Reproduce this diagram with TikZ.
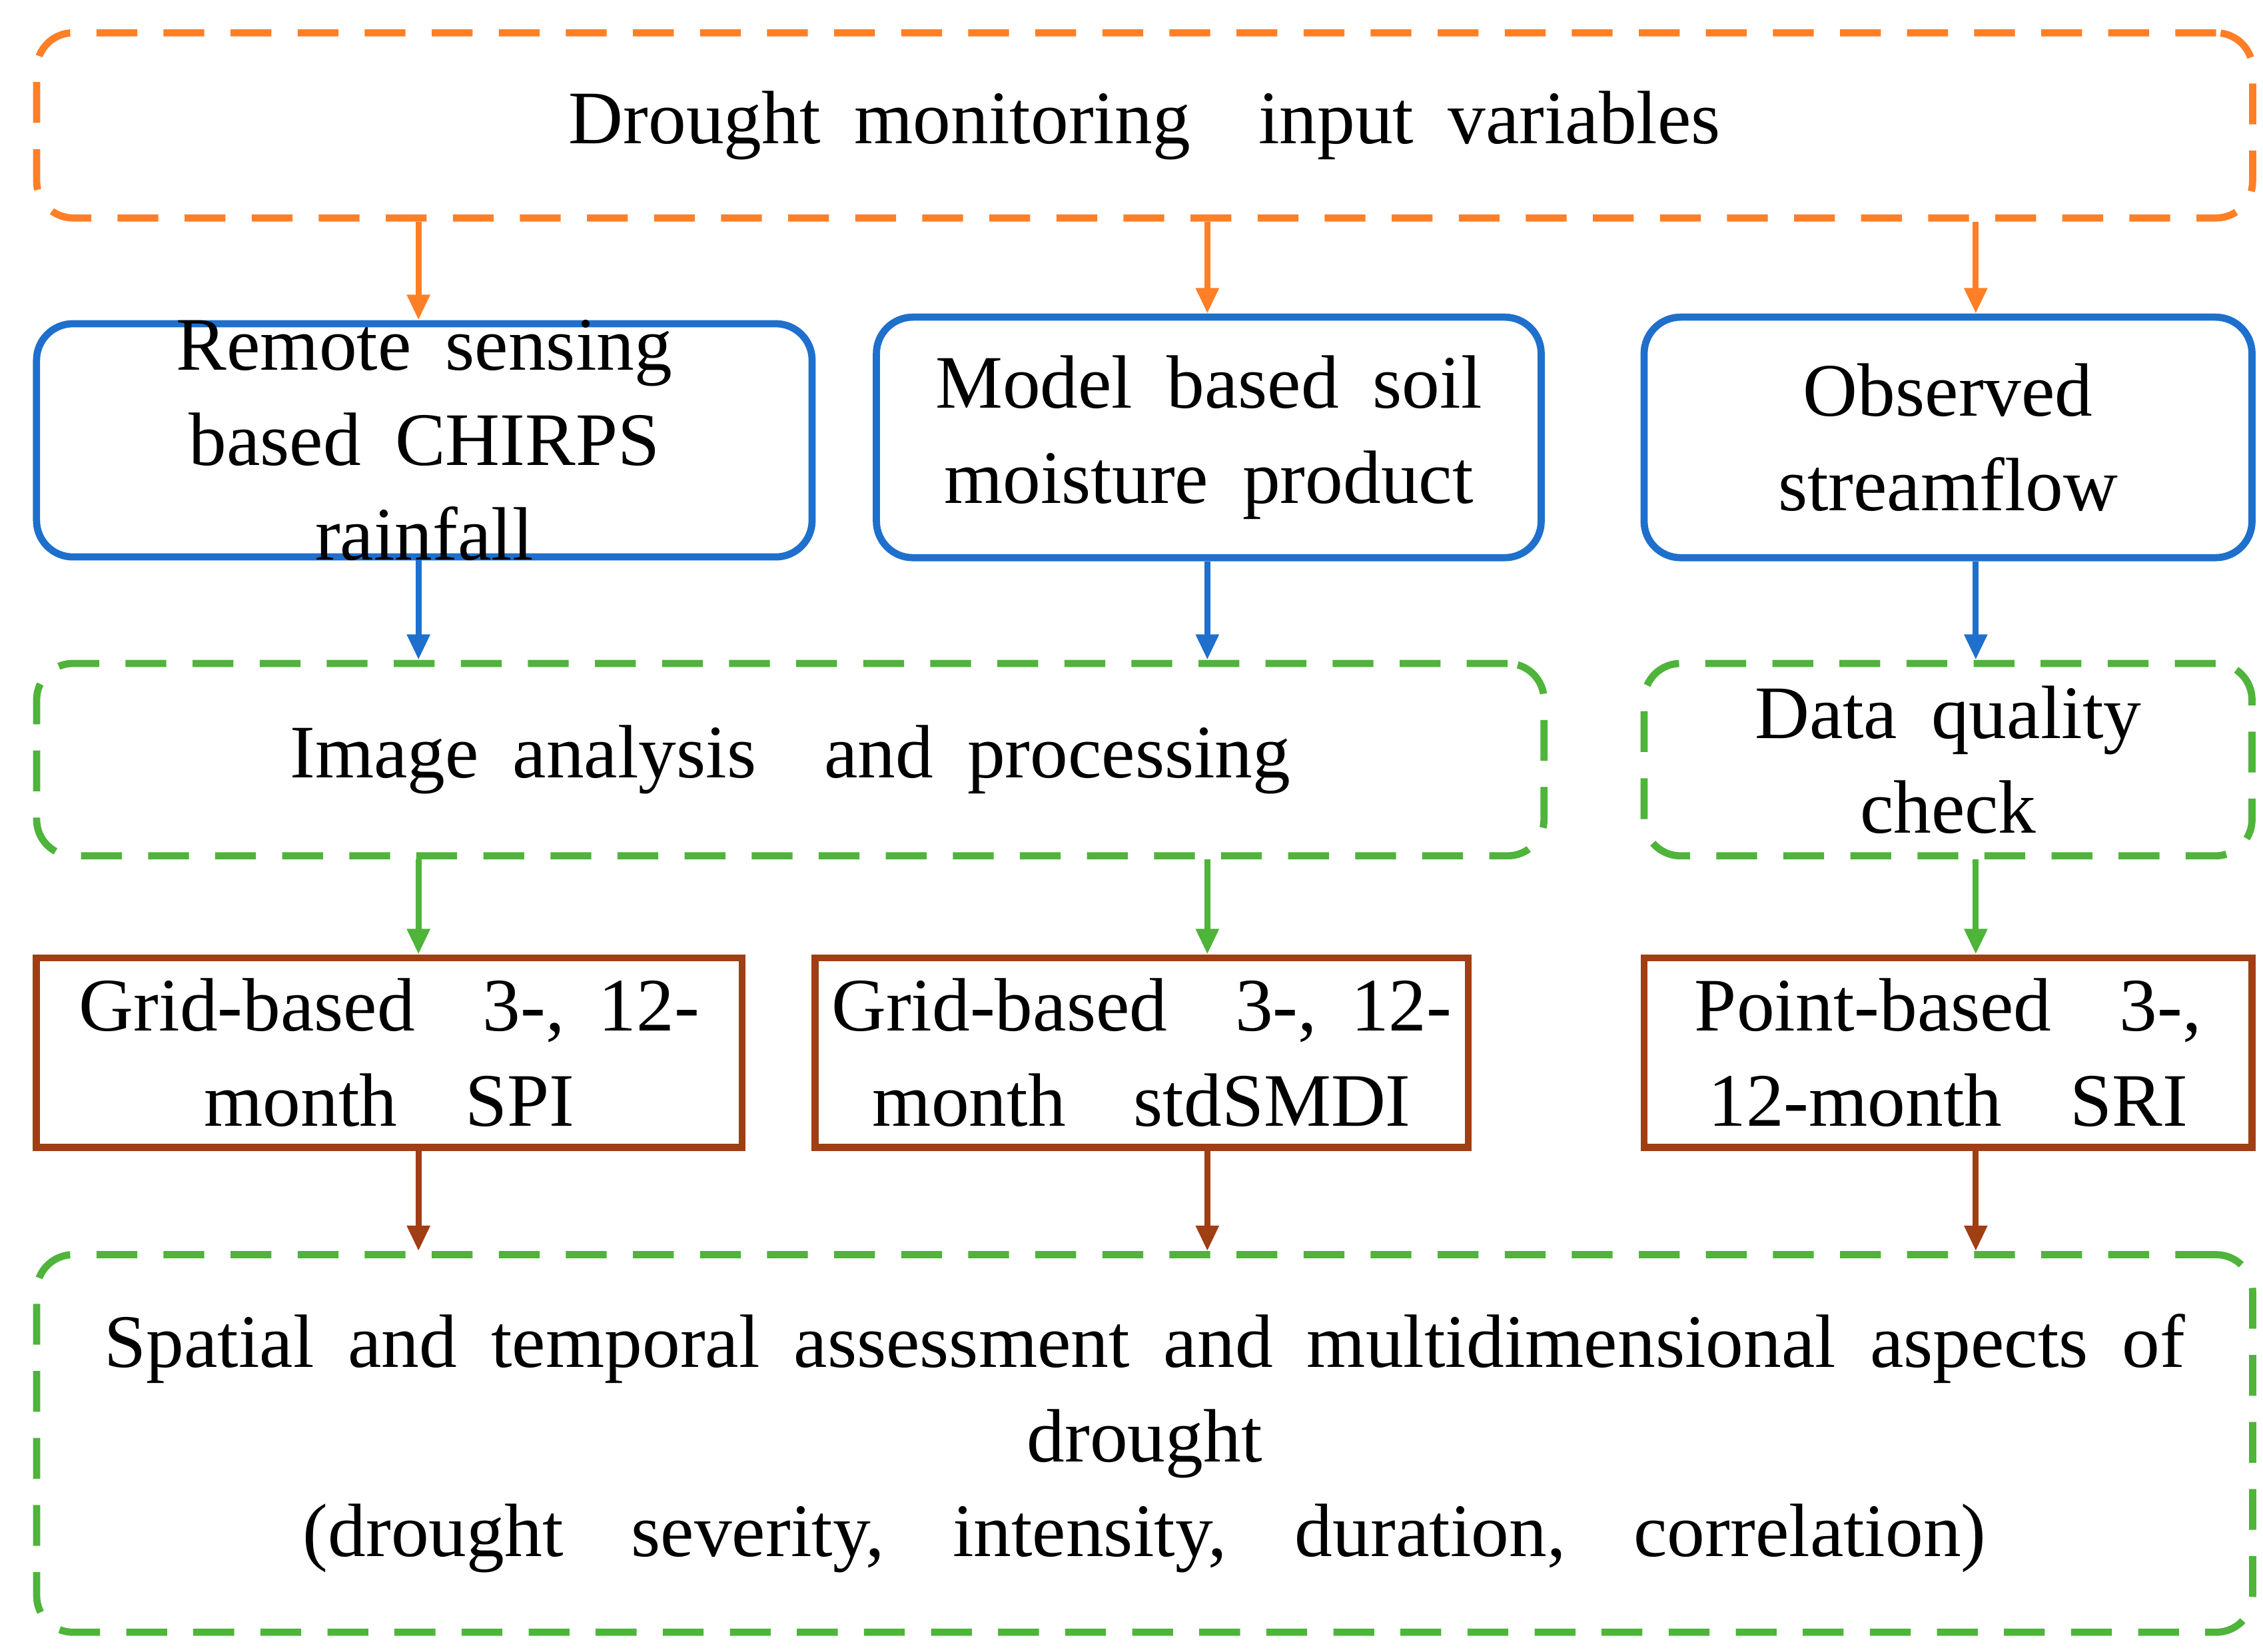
\documentclass[tikz,border=0pt]{standalone}
\usepackage{fontspec}
\setmainfont{Liberation Serif}
\usetikzlibrary{arrows.meta}
\definecolor{cOr}{RGB}{255,127,39}
\definecolor{cBl}{RGB}{30,112,204}
\definecolor{cGr}{RGB}{78,180,58}
\definecolor{cBr}{RGB}{160,62,20}
\newcommand{\widesp}{\spaceskip=0.45em\relax}
\begin{document}
\begin{tikzpicture}[x=0.02cm,y=-0.02cm,
  box/.style={line width=2.8pt,inner sep=0pt,align=center,
    font=\fontsize{29.5}{37}\selectfont\widesp},
  dsh/.style={box,dash pattern=on 0.56cm off 0.36cm,rounded corners=0.5cm},
  rnd/.style={box,rounded corners=0.5cm,draw=cBl},
  sq/.style={box,draw=cBr},
  arr/.style={line width=2.4pt,-{Triangle[length=0.35cm,width=0.3cm]}}]
\useasboundingbox (0,0) rectangle (1552,1133);
\node[dsh,draw=cOr,minimum width=30.4cm,minimum height=2.54cm] (top) at (785,86)
  {Drought monitoring \ input variables};
\node[rnd,minimum width=10.64cm,minimum height=3.2cm] (b1) at (291,302) {};
\node[box] at (b1) {Remote sensing\\based CHIRPS\\rainfall};
\node[rnd,minimum width=9.12cm,minimum height=3.3cm] (b2) at (829,300)
  {Model based soil\\moisture product};
\node[rnd,minimum width=8.34cm,minimum height=3.3cm] (b3) at (1336,300)
  {Observed\\streamflow};
\node[dsh,draw=cGr,minimum width=20.68cm,minimum height=2.64cm] (g1) at (542,521)
  {Image analysis \ and processing};
\node[dsh,draw=cGr,minimum width=8.34cm,minimum height=2.64cm] (g2) at (1336,521)
  {Data quality\\check};
\node[sq,minimum width=9.68cm,minimum height=2.6cm] (r1) at (267,722)
  {Grid-based \ 3-, 12-\\month \ SPI};
\node[sq,minimum width=8.96cm,minimum height=2.6cm] (r2) at (783,722)
  {Grid-based \ 3-, 12-\\month \ stdSMDI};
\node[sq,minimum width=8.34cm,minimum height=2.6cm] (r3) at (1336,722)
  {Point-based \ 3-,\\12-month \ SRI};
\node[dsh,draw=cGr,minimum width=30.4cm,minimum height=5.18cm] (bot) at (785,990)
  {Spatial and temporal assessment and multidimensional aspects of\\drought\\(drought \ severity, \ intensity, \ duration, \ correlation)};
\coordinate (xa) at (287,0);
\coordinate (xb) at (828,0);
\coordinate (xc) at (1355,0);
\draw[arr,cOr] (top.south -| xa) -- (b1.north -| xa);
\draw[arr,cOr] (top.south -| xb) -- (b2.north -| xb);
\draw[arr,cOr] (top.south -| xc) -- (b3.north -| xc);
\draw[arr,cBl] (b1.south -| xa) -- (g1.north -| xa);
\draw[arr,cBl] (b2.south -| xb) -- (g1.north -| xb);
\draw[arr,cBl] (b3.south -| xc) -- (g2.north -| xc);
\draw[arr,cGr] (g1.south -| xa) -- (r1.north -| xa);
\draw[arr,cGr] (g1.south -| xb) -- (r2.north -| xb);
\draw[arr,cGr] (g2.south -| xc) -- (r3.north -| xc);
\draw[arr,cBr] (r1.south -| xa) -- (bot.north -| xa);
\draw[arr,cBr] (r2.south -| xb) -- (bot.north -| xb);
\draw[arr,cBr] (r3.south -| xc) -- (bot.north -| xc);
\end{tikzpicture}
\end{document}
